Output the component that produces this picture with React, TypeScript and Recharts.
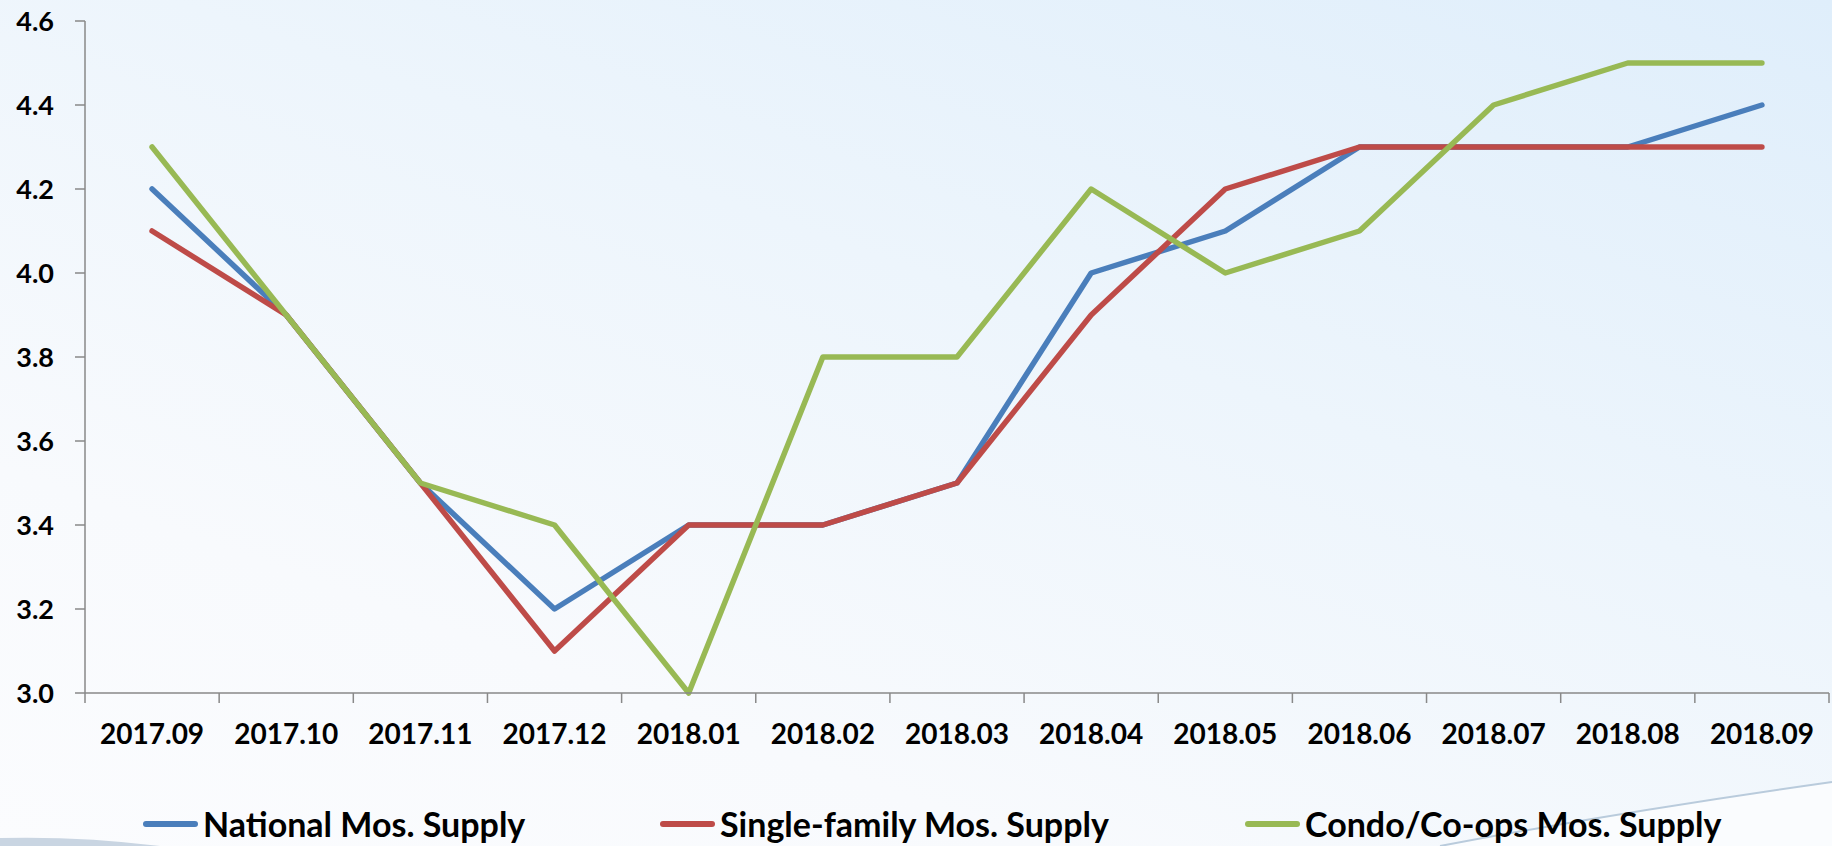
import { Line, LineChart, XAxis, YAxis } from "recharts";

const months = [
  "2017.09", "2017.10", "2017.11", "2017.12", "2018.01", "2018.02", "2018.03",
  "2018.04", "2018.05", "2018.06", "2018.07", "2018.08", "2018.09",
];
const national = [4.2, 3.9, 3.5, 3.2, 3.4, 3.4, 3.5, 4.0, 4.1, 4.3, 4.3, 4.3, 4.4];
const singleFamily = [4.1, 3.9, 3.5, 3.1, 3.4, 3.4, 3.5, 3.9, 4.2, 4.3, 4.3, 4.3, 4.3];
const condo = [4.3, 3.9, 3.5, 3.4, 3.0, 3.8, 3.8, 4.2, 4.0, 4.1, 4.4, 4.5, 4.5];
const yTicks = [3.0, 3.2, 3.4, 3.6, 3.8, 4.0, 4.2, 4.4, 4.6];

const series = [
  { key: "national", name: "National Mos. Supply", color: "#4a7ebb", values: national, legendX: 143 },
  { key: "single", name: "Single-family Mos. Supply", color: "#be4b48", values: singleFamily, legendX: 660 },
  { key: "condo", name: "Condo/Co-ops Mos. Supply", color: "#98b954", values: condo, legendX: 1245 },
];

const data = months.map((m, i) => ({
  month: m,
  national: national[i],
  single: singleFamily[i],
  condo: condo[i],
}));

const W = 1832;
const H = 846;
const LEFT = 85;
const RIGHT = 1829;
const TOP = 21;
const BOTTOM = 693;
const HALF = (RIGHT - LEFT) / months.length / 2;
const AXIS = "#898989";
const FONT = "Lato, 'Open Sans', sans-serif";

function MonthTick(props: any) {
  const { x, y, payload, index } = props;
  return (
    <g>
      {index === 0 && (
        <line x1={x - HALF} y1={y} x2={x - HALF} y2={y + 10} stroke={AXIS} strokeWidth={1.5} />
      )}
      <line x1={x + HALF} y1={y} x2={x + HALF} y2={y + 10} stroke={AXIS} strokeWidth={1.5} />
      <text
        x={x}
        y={y + 51}
        textAnchor="middle"
        fill="#000"
        fontFamily={FONT}
        fontWeight={700}
        fontSize={28}
      >
        {payload.value}
      </text>
    </g>
  );
}

export default function App() {
  return (
    <div
      style={{
        position: "fixed",
        left: 0,
        top: 0,
        width: W,
        height: H,
        overflow: "hidden",
        background: "linear-gradient(200deg, #dfeefb 0%, #edf5fc 40%, #f8fafd 75%, #fbfcfe 100%)",
      }}
    >
      <svg width={W} height={H} style={{ position: "absolute", left: 0, top: 0 }}>
        <path d="M 1440 846 Q 1620 812 1832 782 L 1832 846 Z" fill="#fafcfe" />
        <path d="M 1440 846 Q 1620 812 1832 782" fill="none" stroke="#b9cbdc" strokeWidth={2} />
        <path d="M 0 846 L 0 838 Q 80 836 160 846 Z" fill="#c9d5e2" />
      </svg>
      <div style={{ position: "absolute", left: 0, top: 0 }}>
        <LineChart
          width={W}
          height={H}
          data={data}
          margin={{ top: TOP, right: W - RIGHT, bottom: 0, left: 0 }}
        >
          <XAxis
            dataKey="month"
            height={H - BOTTOM}
            padding={{ left: HALF, right: HALF }}
            interval={0}
            tickLine={false}
            tickSize={0}
            tickMargin={0}
            axisLine={{ stroke: AXIS, strokeWidth: 1.5 }}
            tick={<MonthTick />}
          />
          <YAxis
            width={LEFT}
            domain={[3.0, 4.6]}
            ticks={yTicks}
            interval={0}
            tickFormatter={(v: number) => v.toFixed(1)}
            tickSize={10}
            tickMargin={21}
            axisLine={{ stroke: AXIS, strokeWidth: 1.5 }}
            tickLine={{ stroke: AXIS, strokeWidth: 1.5 }}
            tick={{ fill: "#000", fontSize: 27, fontWeight: 700, fontFamily: FONT }}
          />
          {series.map((s) => (
            <Line
              key={s.key}
              dataKey={s.key}
              name={s.name}
              type="linear"
              stroke={s.color}
              strokeWidth={5.5}
              strokeLinecap="round"
              strokeLinejoin="round"
              dot={false}
              activeDot={false}
              isAnimationActive={false}
            />
          ))}
        </LineChart>
      </div>
      {series.map((s) => (
        <div
          key={s.key}
          style={{
            position: "absolute",
            left: s.legendX,
            top: 804,
            height: 40,
            lineHeight: "40px",
            display: "flex",
            alignItems: "center",
            fontFamily: FONT,
            fontWeight: 700,
            fontSize: 34,
            color: "#000",
            whiteSpace: "nowrap",
          }}
        >
          <span
            style={{
              display: "inline-block",
              width: 55,
              height: 6,
              borderRadius: 3,
              background: s.color,
              marginRight: 5,
            }}
          />
          {s.name}
        </div>
      ))}
    </div>
  );
}
